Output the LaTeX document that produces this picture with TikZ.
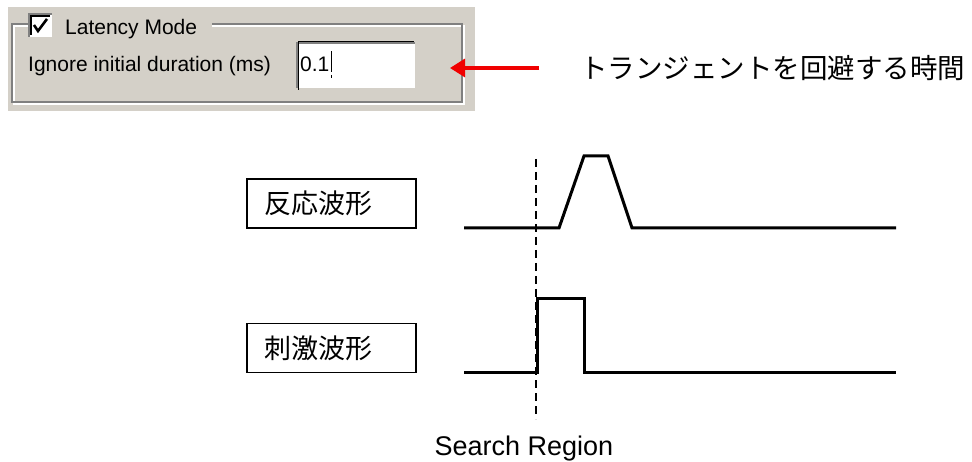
\documentclass[tikz,border=0pt]{standalone}
\usepackage{fontspec}
\setmainfont{Liberation Sans}
\newfontfamily\jpfont{Noto Sans CJK JP}
\usetikzlibrary{arrows.meta}
\definecolor{panelgray}{HTML}{D4D0C8}
\definecolor{etchgray}{HTML}{808080}
\definecolor{markred}{HTML}{F00000}

\begin{document}
\begin{tikzpicture}[x=1pt,y=-1pt,
    uitext/.style={anchor=base west,inner sep=0pt,font=\fontsize{21}{24}\selectfont},
    wave/.style={line width=3pt,line join=miter},
    labelbox/.style={draw,line width=1.6pt,minimum width=169pt,minimum height=49pt,
      inner xsep=17pt,text width=135pt,align=left,font=\jpfont\fontsize{27}{30}\selectfont}]
  \useasboundingbox (0,0) rectangle (972,462);
  \fill[white] (0,0) rectangle (972,462);

  % dialog
  \fill[panelgray] (8,7) rectangle (475,111);
  \draw[white,line width=1.5pt] (28,26) -- (14,26) -- (14,104) -- (464,104) -- (464,26) -- (212,26);
  \draw[etchgray,line width=1.5pt] (28,24) -- (12,24) -- (12,102) -- (462,102) -- (462,24) -- (212,24);
  \fill[white] (29,14) rectangle (52,37);
  \draw[etchgray,line width=1.5pt] (29,37) -- (29,14) -- (52,14);
  \draw[black,line width=1.5pt] (31,35) -- (31,16) -- (50,16);
  \draw[line width=2.6pt] (34,25) -- (38,31) -- (47,19);
  \node[uitext] (latency) at (65,35) {Latency Mode};
  \node[uitext] (ignore) at (28,72) {Ignore initial duration (ms)};
  \node[fill=white,inner sep=0pt,minimum width=118pt,minimum height=45pt] (valuebox) at (356,65.5) {};
  \draw[etchgray,line width=1.5pt] (valuebox.south west) -- (valuebox.north west) -- (valuebox.north east);
  \draw[black,line width=1.5pt] ([shift={(1.5,1.5)}]valuebox.south west) -- ([shift={(1.5,-1.5)}]valuebox.north west) -- ([shift={(-1.5,-1.5)}]valuebox.north east);
  \node[uitext] (value) at (300,72) {0.1};
  \draw[line width=1.2pt] ([xshift=2pt]value.base east) -- ++(0,-21);
  \draw[line width=1.2pt] ([xshift=2pt,yshift=-3pt]value.base east) -- ++(0,3);

  % note
  \node[anchor=west,inner sep=0pt,font=\jpfont\fontsize{27.5}{30}\selectfont] (transient) at (580,68) {トランジェントを回避する時間};
  \coordinate (noteend) at (450,68);
  \draw[markred,line width=3.2pt,-{Triangle[length=15pt,width=18pt]}] ([xshift=-41pt]transient.west) -- (noteend);

  % waveforms
  \node[labelbox] (response) at (331.5,203.5) {反応波形};
  \node[labelbox] (stimulus) at (331.5,348) {刺激波形};
  \draw[wave] (464,228) -- (559,228) -- (584,156) -- (608,156) -- (632,228) -- (896,228);
  \draw[wave] (464,372) -- (537,372) -- (537,299) -- (584,299) -- (584,372) -- (896,372);

  \coordinate (regiontop) at (536,159);
  \coordinate (regionend) at (536,419);
  \draw[line width=1.4pt,dash pattern=on 8pt off 5pt] (regiontop) -- (regionend);
  \node[anchor=base,inner sep=0pt,font=\fontsize{27}{30}\selectfont] (region) at (524,455) {Search Region};
\end{tikzpicture}
\end{document}
